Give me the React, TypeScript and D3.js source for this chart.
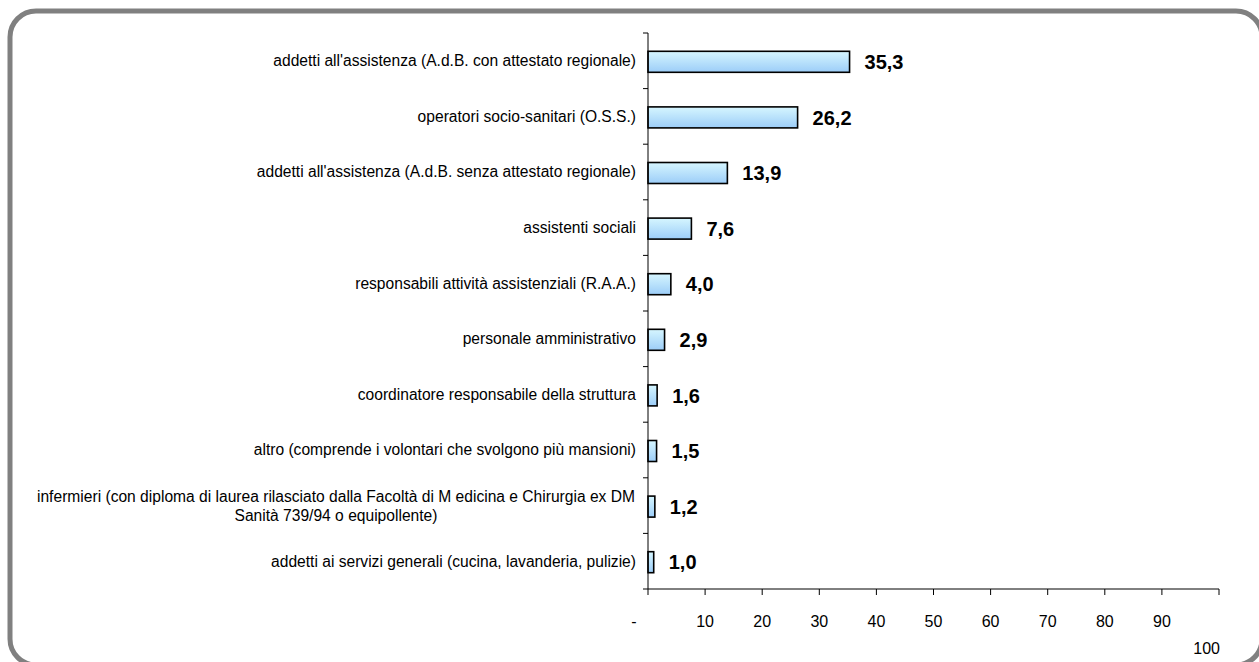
import React from "react";
import * as d3 from "d3";

const categories = [
  "addetti all'assistenza (A.d.B. con attestato regionale)",
  "operatori socio-sanitari (O.S.S.)",
  "addetti all'assistenza (A.d.B. senza attestato regionale)",
  "assistenti sociali",
  "responsabili attività assistenziali (R.A.A.)",
  "personale amministrativo",
  "coordinatore responsabile della struttura",
  "altro (comprende i volontari che svolgono più mansioni)",
  "infermieri (con diploma di laurea rilasciato dalla Facoltà di M edicina e Chirurgia ex DM\nSanità 739/94 o equipollente)",
  "addetti ai servizi generali (cucina, lavanderia, pulizie)",
];
const values = [35.3, 26.2, 13.9, 7.6, 4.0, 2.9, 1.6, 1.5, 1.2, 1.0];
const xTicks = [0, 10, 20, 30, 40, 50, 60, 70, 80, 90, 100];

const W = 1259, H = 662;
const left = 648, right = 1219, top = 33, bottom = 589;

export default function App() {
  const x = d3.scaleLinear().domain([0, 100]).range([left, right]);
  const y = d3.scaleBand<number>().domain(d3.range(categories.length)).range([top, bottom]);
  const bh = 21;
  const fmt = (v: number) => v.toFixed(1).replace(".", ",");
  const catSize = 15.6;

  return (
    <div style={{ position: "absolute", left: 0, top: 0 }}>
      <svg width={W} height={H} style={{ display: "block", fontFamily: "Arial, 'Liberation Sans', sans-serif" }}>
        <defs>
          <linearGradient id="barGrad" x1="0" y1="0" x2="0" y2="1">
            <stop offset="0%" stopColor="#d6f6ff" />
            <stop offset="100%" stopColor="#9ccdf8" />
          </linearGradient>
        </defs>
        <rect x={0} y={0} width={W} height={H} fill="#fff" />
        <rect x={10} y={11} width={1252} height={654} rx={26} ry={26}
          fill="none" stroke="#808080" strokeWidth={5} />

        {/* bars */}
        {values.map((v, i) => {
          const cy = y(i)! + y.bandwidth() / 2 + 1;
          return (
            <g key={i}>
              <rect x={x(0)} y={cy - bh / 2} width={x(v) - x(0)} height={bh}
                fill="url(#barGrad)" stroke="#000" strokeWidth={1.6} />
              <text x={x(v) + 15} y={cy} dy="0.36em" fontSize={20} fontWeight="bold" fill="#000">
                {fmt(v)}
              </text>
            </g>
          );
        })}

        {/* category labels */}
        {categories.map((c, i) => {
          const cy = y(i)! + y.bandwidth() / 2;
          const lines = c.split("\n");
          if (lines.length === 1) {
            return (
              <text key={i} x={636} y={cy} dy="0.35em" textAnchor="end" fontSize={catSize} fill="#000">
                {c}
              </text>
            );
          }
          return (
            <g key={i} fontSize={catSize} fill="#000" textAnchor="middle">
              <text x={336} y={cy - 9} dy="0.35em">{lines[0]}</text>
              <text x={336} y={cy + 10} dy="0.35em">{lines[1]}</text>
            </g>
          );
        })}

        {/* y axis */}
        <line x1={left} x2={left} y1={top} y2={bottom} stroke="#000" strokeWidth={1} />
        {d3.range(categories.length + 1).map((i) => {
          const ty = top + i * y.step();
          return <line key={i} x1={left - 5} x2={left} y1={ty} y2={ty} stroke="#000" />;
        })}

        {/* x axis */}
        <line x1={left} x2={right} y1={bottom} y2={bottom} stroke="#000" strokeWidth={1} />
        {xTicks.map((t) => (
          <g key={t}>
            <line x1={x(t)} x2={x(t)} y1={bottom} y2={bottom + 6} stroke="#000" />
            {t === 0 ? (
              <text x={x(t) - 14} y={621} dy="0.35em" textAnchor="middle" fontSize={16}>-</text>
            ) : t === 100 ? (
              <text x={x(t) + 1} y={648} dy="0.35em" textAnchor="end" fontSize={16}>{t}</text>
            ) : (
              <text x={x(t)} y={621} dy="0.35em" textAnchor="middle" fontSize={16}>{t}</text>
            )}
          </g>
        ))}
      </svg>
    </div>
  );
}
